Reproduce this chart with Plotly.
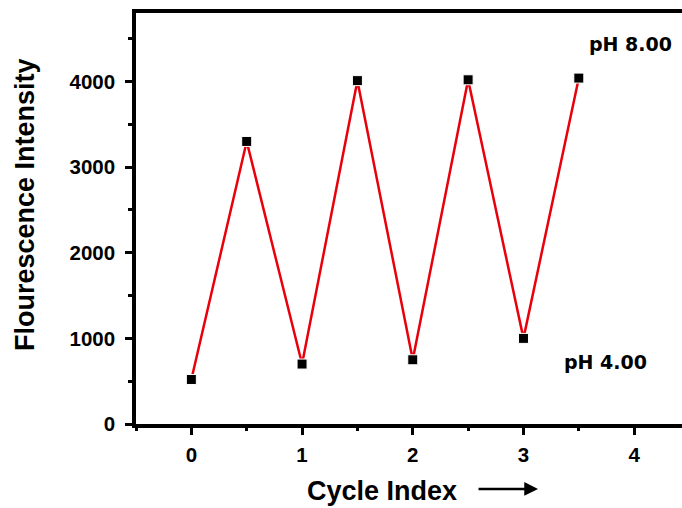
import plotly.graph_objects as go

# Cycling between pH 4.00 and pH 8.00
cycle_index = [0, 0.5, 1, 1.5, 2, 2.5, 3, 3.5]
intensity = [520, 3300, 700, 4010, 750, 4020, 1000, 4040]

x_ticks = [0, 1, 2, 3, 4]
y_ticks = [0, 1000, 2000, 3000, 4000]

tick_font = dict(family="Liberation Sans, Arial", size=20.5, color="black", weight="bold")
title_font = dict(family="Liberation Sans, Arial", size=27, color="black", weight="bold")
label_font = dict(family="DejaVu Sans", size=19, color="black", weight="bold")

fig = go.Figure()
fig.add_trace(go.Scatter(
    x=cycle_index, y=intensity, mode="lines",
    line=dict(color="#e8000b", width=2.5),
    hoverinfo="skip", showlegend=False,
))
fig.add_trace(go.Scatter(
    x=cycle_index, y=intensity, mode="markers",
    marker=dict(symbol="square", size=10, color="black",
                line=dict(color="white", width=1)),
    showlegend=False,
))

fig.update_layout(
    width=682, height=508,
    margin=dict(l=136, r=0, t=13, b=84),
    paper_bgcolor="white", plot_bgcolor="white",
    xaxis=dict(
        range=[-0.5, 4.432], tickvals=x_ticks,
        ticks="outside", ticklen=7, tickwidth=3, tickcolor="black",
        minor=dict(dtick=0.5, tick0=0, ticks="outside", ticklen=3, tickwidth=3, tickcolor="black"),
        showline=True, linewidth=3.5, linecolor="black", mirror=True,
        showgrid=False, zeroline=False, tickfont=tick_font,
        ticklabelstandoff=3,
    ),
    yaxis=dict(
        range=[0, 4800], tickvals=y_ticks,
        ticks="outside", ticklen=7, tickwidth=3, tickcolor="black",
        minor=dict(dtick=500, tick0=0, ticks="outside", ticklen=4, tickwidth=3, tickcolor="black"),
        showline=True, linewidth=3.5, linecolor="black", mirror=False,
        showgrid=False, zeroline=False, tickfont=tick_font,
        ticklabelstandoff=6,
    ),
    annotations=[
        dict(text="Cycle Index", xref="paper", yref="paper", x=0.4505, y=-0.163,
             xanchor="center", yanchor="middle", showarrow=False, font=title_font),
        dict(text="Flourescence Intensity", xref="paper", yref="paper", x=-0.2033, y=0.5353,
             xanchor="center", yanchor="middle", textangle=-90, showarrow=False, font=title_font),
        dict(text="", xref="paper", yref="paper", x=0.7363, y=-0.158,
             ax=-61, ay=0, showarrow=True, arrowhead=2, arrowsize=1.1,
             arrowwidth=2.5, arrowcolor="black", standoff=0, startstandoff=0),
        dict(text="pH 8.00", xref="x", yref="y", x=3.97, y=4440,
             xanchor="center", yanchor="middle", showarrow=False, font=label_font),
        dict(text="pH 4.00", xref="x", yref="y", x=3.74, y=724,
             xanchor="center", yanchor="middle", showarrow=False, font=label_font),
    ],
)

fig.write_html("out.html")
